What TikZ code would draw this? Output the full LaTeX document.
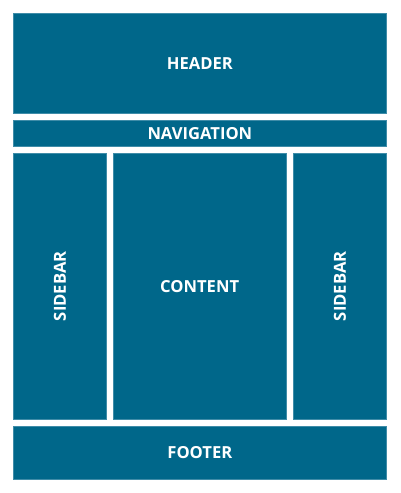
\documentclass[tikz,border=0pt]{standalone}
\usepackage{fontspec}
\setmainfont{Open Sans}
\usetikzlibrary{positioning}
\definecolor{layoutBlue}{HTML}{00678A}
\definecolor{edgeBlue}{HTML}{3F8CA8}

\begin{document}
\begin{tikzpicture}[
    x=1pt, y=-1pt,
    region/.style={draw=edgeBlue, fill=layoutBlue, line width=0.6pt, inner sep=0pt, outer sep=0pt, anchor=north west, align=center, font=\fontsize{16.6}{18}\selectfont\bfseries\color{white}},
    upright/.style={rotate=90, font=\fontsize{16.6}{18}\selectfont\bfseries\color{white}}
  ]
    \useasboundingbox (0,0) rectangle (400,493);
    % Nodes
    \node[region, minimum width=373.7pt, minimum height=100.3pt] (header) at (13,13) {HEADER};
    \node[region, minimum width=373.7pt, minimum height=26.7pt] (nav) at (13,120) {NAVIGATION};
    \node[region, minimum width=93.7pt, minimum height=266pt] (left) at (13,153.3) {};
    \node[region, minimum width=172.7pt, minimum height=266pt] (content) at (113.3,153.3) {CONTENT};
    \node[region, minimum width=93.4pt, minimum height=266pt] (right) at (293.3,153.3) {};
    \node[region, minimum width=373.7pt, minimum height=53.3pt] (footer) at (13,426) {FOOTER};

    % Labels
    \node[upright] (leftlabel) at (left.center) {SIDEBAR};
    \node[upright] (rightlabel) at (right.center) {SIDEBAR};
  \end{tikzpicture}
\end{document}
